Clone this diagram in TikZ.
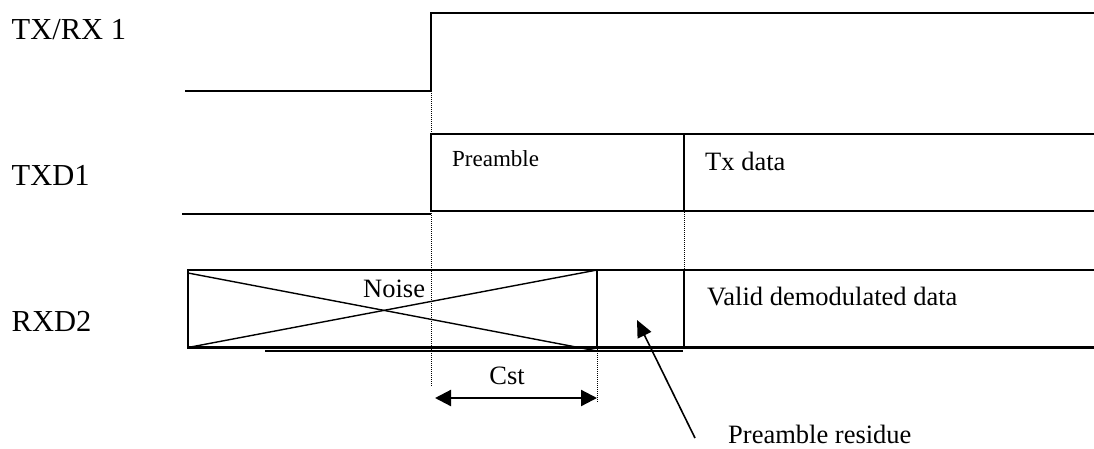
\documentclass[tikz,border=0pt]{standalone}
\usepackage{fontspec}
\setmainfont{Liberation Serif}
\usetikzlibrary{arrows.meta}
\begin{document}
\begin{tikzpicture}[x=1pt,y=-1pt,
  sig/.style={line width=2.1pt, line join=miter},
  thinsig/.style={line width=1.6pt},
  diag/.style={line width=1.4pt},
  guide/.style={line width=1pt, dash pattern=on 1pt off 1pt},
  arr/.style={line width=1.6pt, -{Triangle[length=17pt,width=15pt]}},
  darr/.style={line width=2.2pt, {Triangle[length=16pt,width=16pt]}-{Triangle[length=16pt,width=16pt]}},
  biglabel/.style={inner sep=0pt, anchor=base west, font=\fontsize{30.5}{34}\selectfont},
  txt/.style={inner sep=0pt, anchor=base west, font=\fontsize{26.5}{30}\selectfont},
  smalltxt/.style={inner sep=0pt, anchor=base west, font=\fontsize{23}{26}\selectfont}]
\useasboundingbox (0,0) rectangle (1094,448);

% labels
\node[biglabel] (l1) at (11.5,39.3) {TX/RX 1};
\node[biglabel] (l2) at (11.5,185) {TXD1};
\node[biglabel] (l3) at (11.5,331.7) {RXD2};

% guide (dotted) lines
\draw[guide] (431,13) -- (431,387);
\draw[guide] (684,134) -- (684,270);
\draw[guide] (597,347) -- (597,402);

% TX/RX 1
\draw[sig] (185,91) -- (431,91) -- (431,13.3) -- (1094,13.3);

% TXD1
\draw[sig] (182,214.3) -- (431,214.3);
\draw[sig] (1094,134) -- (431,134) -- (431,211) -- (1094,211);
\draw[thinsig] (684,134) -- (684,211);
\node[smalltxt] (pre) at (452,166.7) {Preamble};
\node[txt] (txd) at (705,170) {Tx data};

% RXD2
\draw[sig] (1094,270) -- (188,270) -- (188,347.5) -- (1094,347.5);
\draw[thinsig] (597,270) -- (597,347.5);
\draw[line width=2.6pt] (684,270) -- (684,347.5);
\draw[diag] (188,273) -- (597,351);
\draw[diag] (188,347.5) -- (597,270);
\draw[thinsig] (265,351) -- (683,351);
\node[txt] (noise) at (363,297) {Noise};
\node[txt] (valid) at (707,305) {Valid demodulated data};

% Cst
\coordinate (cstL) at (435,398);
\coordinate (cstR) at (597,398);
\draw[darr] (cstL) -- (cstR);
\node[txt, anchor=base] (cst) at (507,384.3) {Cst};

% Preamble residue
\node[txt] (res) at (728,443) {Preamble residue};
\coordinate (resTail) at (695,438);
\coordinate (resTip) at (637,320);
\draw[arr] (resTail) -- (resTip);
\end{tikzpicture}
\end{document}
